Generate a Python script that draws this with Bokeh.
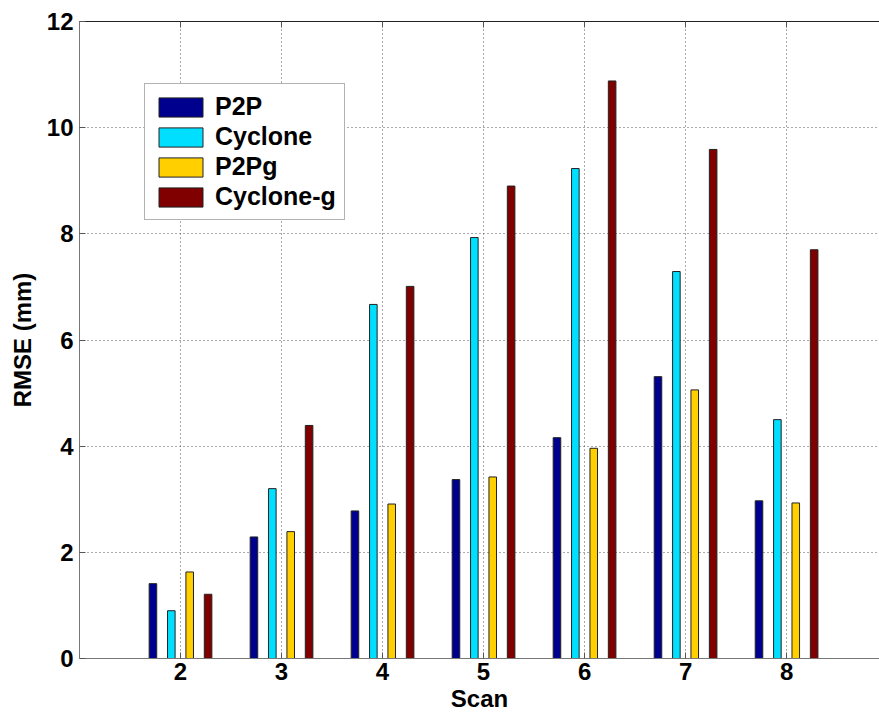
from bokeh.plotting import figure
from bokeh.models import (ColumnDataSource, Range1d, LinearAxis, FixedTicker,
                          Legend, CustomJSTickFormatter)
from bokeh.transform import dodge
from bokeh.embed import file_html
from bokeh.resources import INLINE

# RMSE per scan for each registration method
scans = [2, 3, 4, 5, 6, 7, 8]
p2p = [1.41, 2.29, 2.78, 3.37, 4.16, 5.31, 2.97]
cyclone = [0.90, 3.20, 6.67, 7.93, 9.23, 7.29, 4.50]
p2pg = [1.63, 2.39, 2.91, 3.42, 3.96, 5.06, 2.93]
cyclone_g = [1.21, 4.39, 7.01, 8.90, 10.88, 9.59, 7.70]

series_names = ["P2P", "Cyclone", "P2Pg", "Cyclone-g"]
series_keys = ["p2p", "cyclone", "p2pg", "cyclone_g"]
colors = ["#00008F", "#00DFFF", "#FFCF00", "#800000"]
offsets = [-0.273, -0.091, 0.091, 0.273]

source = ColumnDataSource(dict(scan=scans, p2p=p2p, cyclone=cyclone,
                               p2pg=p2pg, cyclone_g=cyclone_g))

FONT = "Liberation Sans"

p = figure(width=879, height=719, output_backend="svg", toolbar_location=None,
           x_range=Range1d(1, 8.92), y_range=Range1d(0, 12),
           min_border_left=79, min_border_right=0, min_border_top=21,
           min_border_bottom=61, background_fill_color="white",
           border_fill_color="white")
p.outline_line_color = None

renderers = []
for key, name, color, off in zip(series_keys, series_names, colors, offsets):
    r = p.vbar(x=dodge("scan", off, range=p.x_range), top=key, width=0.075,
               source=source, fill_color=color, line_color="#222222",
               line_width=1)
    renderers.append((name, [r]))

legend = Legend(items=renderers, location=(65, 438),
                label_text_font=FONT, label_text_font_style="bold",
                label_text_font_size="25px", label_text_color="black",
                glyph_width=55, glyph_height=24,
                label_height=24, spacing=1, padding=8, margin=0,
                label_standoff=7, border_line_color="#666666",
                border_line_width=1, background_fill_alpha=1.0)
p.add_layout(legend, "center")

# axes styled with inward ticks
xax = p.xaxis[0]
xax.ticker = FixedTicker(ticks=scans)
xax.axis_label = "Scan"
yax = p.yaxis[0]
yax.ticker = FixedTicker(ticks=[0, 2, 4, 6, 8, 10, 12])
yax.axis_label = "RMSE (mm)"
for ax in (xax, yax):
    ax.major_tick_in = 6
    ax.major_tick_out = 0
    ax.minor_tick_line_color = None
    ax.axis_line_color = "#777777"
    ax.major_tick_line_color = "#555555"
    ax.major_label_text_font = FONT
    ax.major_label_text_font_style = "bold"
    ax.major_label_text_font_size = "24px"
    ax.major_label_text_color = "black"
    ax.axis_label_text_font = FONT
    ax.axis_label_text_font_style = "bold"
    ax.axis_label_text_font_size = "24px"
    ax.axis_label_text_color = "black"
xax.major_label_standoff = 4
xax.axis_label_standoff = 2
yax.major_label_standoff = 6
yax.axis_label_standoff = 8

# top border with inward ticks, no labels
top_axis = LinearAxis(ticker=FixedTicker(ticks=scans), major_tick_in=6,
                      major_tick_out=0,
                      formatter=CustomJSTickFormatter(code="return ''"),
                      major_label_standoff=0, minor_tick_line_color=None,
                      axis_line_color="#222222", major_tick_line_color="#555555")
p.add_layout(top_axis, "above")

for g in (p.xgrid[0], p.ygrid[0]):
    g.grid_line_color = "#555555"
    g.grid_line_dash = "1 3"
    g.grid_line_width = 1

out = file_html(p, INLINE)
open("out.html", "w").write(out)
